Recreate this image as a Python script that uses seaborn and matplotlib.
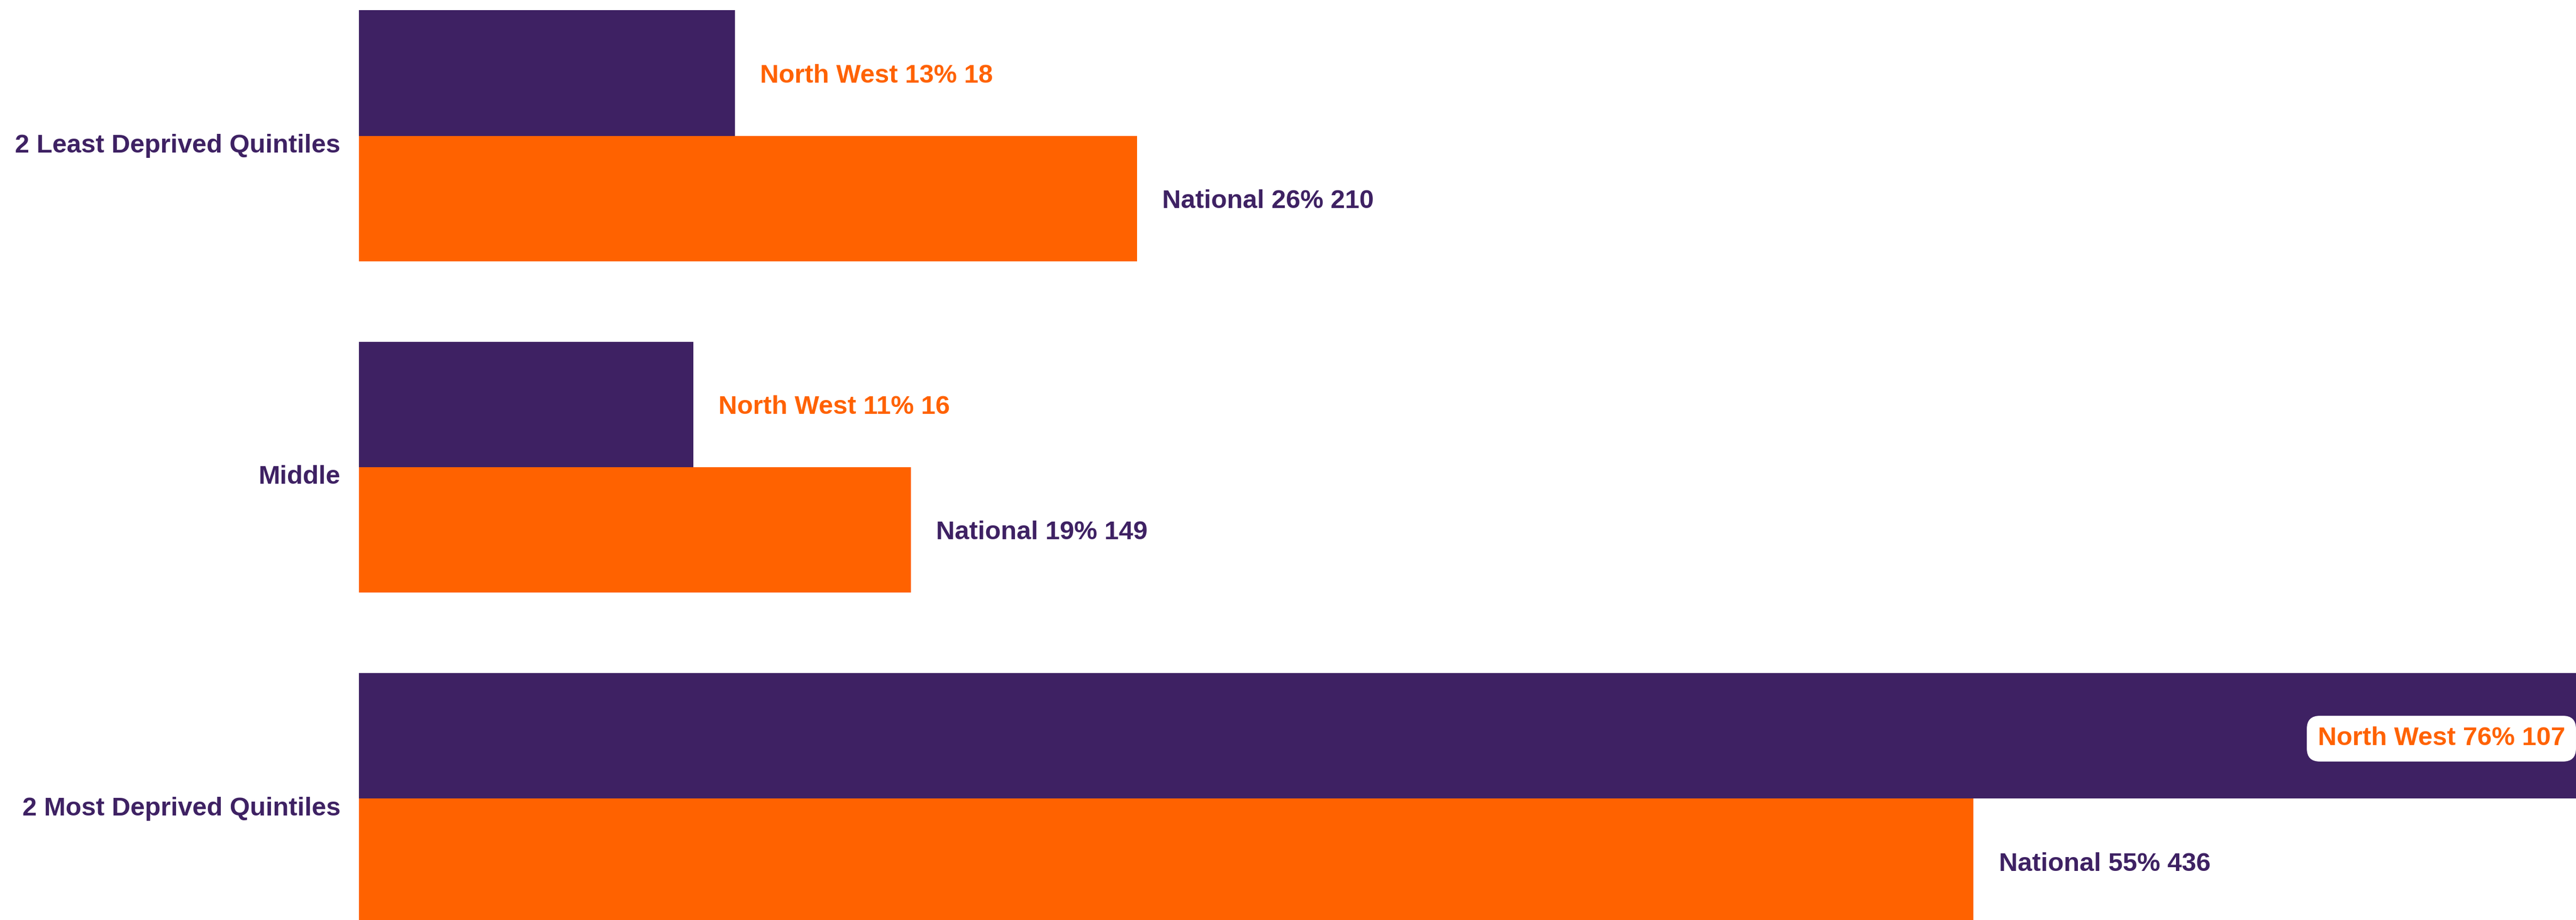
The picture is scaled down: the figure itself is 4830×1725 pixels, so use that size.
import matplotlib
matplotlib.use("Agg")
import matplotlib.pyplot as plt
import matplotlib.transforms as mtransforms
import seaborn as sns
import pandas as pd

categories = ["2 Least Deprived Quintiles", "Middle", "2 Most Deprived Quintiles"]
series = ["North West", "National"]
nw_pct = [12.77, 11.35, 75.89]
nw_count = [18, 16, 107]
nat_pct = [26.42, 18.74, 54.84]
nat_count = [210, 149, 436]

PURPLE = "#3e2163"
ORANGE = "#ff6200"

rows = []
for c, p, n in zip(categories, nw_pct, nw_count):
    rows.append({"category": c, "series": "North West", "pct": p, "count": n})
for c, p, n in zip(categories, nat_pct, nat_count):
    rows.append({"category": c, "series": "National", "pct": p, "count": n})
df = pd.DataFrame(rows)

sns.set_theme(style="white")
plt.rcParams["font.family"] = ["Liberation Sans", "DejaVu Sans"]

DPI = 100
fig = plt.figure(figsize=(48.3, 17.25), dpi=DPI)
ax = fig.add_axes([673 / 4830, 0, 4157 / 4830, 1])

sns.barplot(data=df, y="category", x="pct", hue="series", order=categories,
            hue_order=series, palette=[PURPLE, ORANGE], orient="h",
            width=0.757, linewidth=0, saturation=1, legend=False, ax=ax)

ax.set_xlim(0, 75.3)
ax.set_ylim(2.367, -0.4097)
for s in ax.spines.values():
    s.set_visible(False)
ax.set_xticks([])
ax.set_xlabel("")
ax.set_ylabel("")
ax.tick_params(axis="y", length=0, pad=25)
for lbl in ax.get_yticklabels():
    lbl.set_fontsize(35)
    lbl.set_fontweight("bold")
    lbl.set_color(PURPLE)
    lbl.set_transform(lbl.get_transform() +
                      mtransforms.ScaledTranslation(0, -14 / DPI, fig.dpi_scale_trans))

fs = 35
half = 0.757 / 4
dy = -4
for i, c in enumerate(categories):
    # North West
    p, n = nw_pct[i], nw_count[i]
    txt = f"North West {p:.0f}% {n}"
    if p > ax.get_xlim()[1] * 0.8:
        ax.annotate(txt, xy=(p, i - half), xytext=(-53 * 72 / DPI, dy),
                    textcoords="offset points", ha="right", va="center",
                    fontsize=fs, fontweight="bold", color=ORANGE,
                    annotation_clip=False,
                    bbox=dict(boxstyle="round,pad=0.42,rounding_size=0.5",
                              fc="white", ec="none"))
    else:
        ax.annotate(txt, xy=(p, i - half), xytext=(34, dy),
                    textcoords="offset points", ha="left", va="center",
                    fontsize=fs, fontweight="bold", color=ORANGE)
    # National
    p, n = nat_pct[i], nat_count[i]
    txt = f"National {p:.0f}% {n}"
    ax.annotate(txt, xy=(p, i + half), xytext=(34, dy),
                textcoords="offset points", ha="left", va="center",
                fontsize=fs, fontweight="bold", color=PURPLE)

fig.savefig("out.png", dpi=DPI)
